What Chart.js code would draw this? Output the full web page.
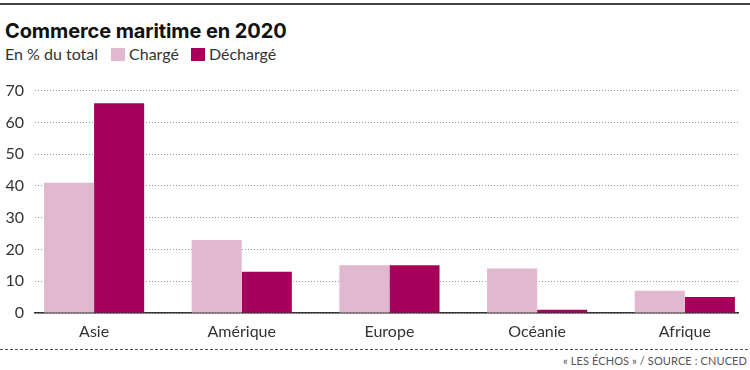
<!DOCTYPE html>
<html lang="fr">
<head>
<meta charset="utf-8">
<title>Commerce maritime en 2020</title>
<script src="https://cdn.jsdelivr.net/npm/chart.js@4"></script>
<style>
  html, body { margin: 0; padding: 0; background: #fff; }
  .frame {
    position: relative;
    width: 750px;
    height: 370px;
    overflow: hidden;
    font-family: Lato, "Open Sans", sans-serif;
    color: #333;
  }
  .topRule { position: absolute; left: 0; top: 3px; width: 750px; height: 1.5px; background: #444; }
  .title {
    position: absolute; left: 5px; top: 19px;
    font: 700 20px/24px Inter, sans-serif; color: #111; letter-spacing: -0.1px;
  }
  .subtitle {
    position: absolute; left: 5px; top: 45px;
    font: 400 16px/18px Lato, sans-serif; color: #333;
    display: flex; align-items: center;
  }
  .legendItem { display: flex; align-items: center; margin-left: 12px; }
  .legendItem:first-of-type { margin-left: 13px; }
  .legendBox { width: 14px; height: 13px; margin-right: 4px; }
  .chartBox { position: absolute; left: 0; top: 70px; width: 750px; height: 280px; }
  .bottomRule { position: absolute; left: 0; top: 349px; width: 748px; border-top: 1px dashed #555; }
  .source {
    position: absolute; right: 3px; top: 354px;
    font: 400 11px/13px Lato, sans-serif; color: #555; letter-spacing: 0.1px;
  }
</style>
</head>
<body>
<div class="frame">
  <div class="topRule"></div>
  <div class="title">Commerce maritime en 2020</div>
  <div class="subtitle jsSubtitle">En % du total</div>
  <div class="chartBox"><canvas id="jsTradeCanvas"></canvas></div>
  <div class="bottomRule"></div>
  <div class="source">« LES ÉCHOS » / SOURCE : CNUCED</div>
</div>

<script>
const regions = ["Asie", "Amérique", "Europe", "Océanie", "Afrique"];
const loaded = [41, 23, 15, 14, 7];    // Chargé
const unloaded = [66, 13, 15, 1, 5];   // Déchargé
const yTicks = [0, 10, 20, 30, 40, 50, 60, 70];

// bars sit on a linear x axis so the group spacing can match the print layout
const toPoints = (values) => values.map((v, i) => ({ x: i, y: v }));

const tradeChart = () => {
  const ctx = document.getElementById("jsTradeCanvas").getContext("2d");

  const chart = new Chart(ctx, {
    type: "bar",
    data: {
      datasets: [
        {
          label: "Chargé",
          data: toPoints(loaded),
          backgroundColor: "#e2b8d1",
        },
        {
          label: "Déchargé",
          data: toPoints(unloaded),
          backgroundColor: "#a6005b",
        },
      ],
    },
    options: {
      responsive: true,
      maintainAspectRatio: false,
      animation: false,
      datasets: {
        bar: {
          categoryPercentage: 0.678,
          barPercentage: 1,
        },
      },
      layout: {
        padding: { top: 17, right: 12, bottom: 7, left: 0 },
      },
      plugins: {
        legend: { display: false },
        tooltip: { enabled: false },
      },
      scales: {
        x: {
          type: "linear",
          offset: false,
          min: -0.4,
          max: 4.36,
          afterFit: (scale) => { scale.height = 30; },
          grid: { display: false },
          border: { display: true, color: "#333", width: 1.5 },
          ticks: {
            stepSize: 1,
            includeBounds: false,
            autoSkip: false,
            maxRotation: 0,
            padding: 1,
            color: "#333",
            font: { family: "Lato", size: 16 },
            callback: (value) => Number.isInteger(value) ? regions[value] : "",
          },
        },
        y: {
          min: yTicks[0],
          max: yTicks[yTicks.length - 1],
          afterFit: (scale) => { scale.width = 35; },
          afterBuildTicks: (scale) => {
            scale.ticks = yTicks.map((v) => ({ value: v }));
          },
          border: { display: false, dash: [1, 2], dashOffset: 0 },
          grid: {
            color: "#999",
            lineWidth: 1,
            drawTicks: false,
          },
          ticks: {
            padding: 11,
            color: "#333",
            font: { family: "Lato", size: 16 },
          },
        },
      },
    },
  });

  // legend next to the subtitle, built from the datasets
  const subtitle = document.querySelector(".jsSubtitle");
  chart.data.datasets.forEach((ds) => {
    const item = document.createElement("span");
    item.className = "legendItem";
    const box = document.createElement("span");
    box.className = "legendBox";
    box.style.background = ds.backgroundColor;
    item.appendChild(box);
    item.appendChild(document.createTextNode(ds.label));
    subtitle.appendChild(item);
  });
};

window.addEventListener("DOMContentLoaded", () => {
  tradeChart();
});
</script>
</body>
</html>
